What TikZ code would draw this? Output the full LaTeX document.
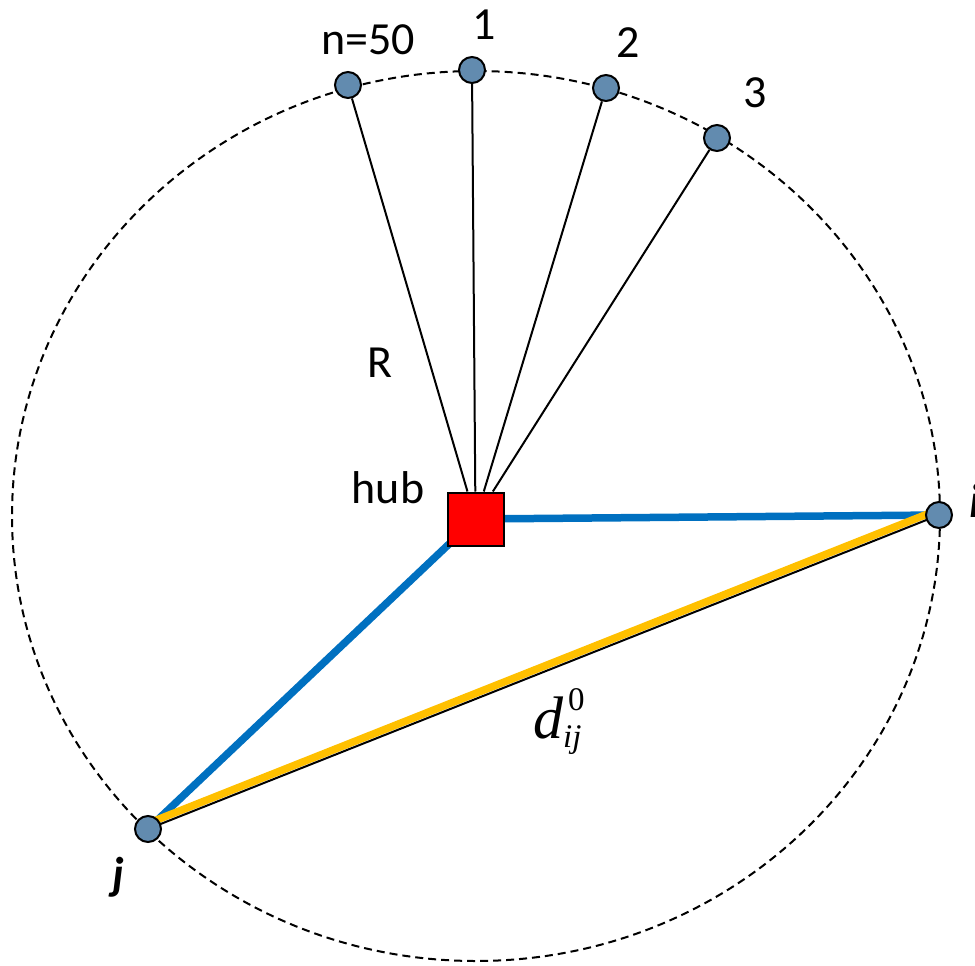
\documentclass[tikz,border=0pt]{standalone}
\usepackage{fontspec}
\setmainfont{Carlito}
\newfontfamily\timesfont{Liberation Serif}
\usetikzlibrary{backgrounds}
\definecolor{nodeblue}{RGB}{98,139,175}
\definecolor{hubred}{RGB}{255,0,0}
\definecolor{linkblue}{RGB}{0,112,192}
\definecolor{linkyellow}{RGB}{255,192,0}

\begin{document}
\begin{tikzpicture}[
      x=1pt, y=-1pt,
      site/.style={circle, draw, line width=2pt, fill=nodeblue,
                   minimum size=26pt, inner sep=0pt},
      hubbox/.style={rectangle, draw, line width=2pt, fill=hubred,
                     minimum width=56pt, minimum height=53pt, inner sep=0pt},
      lab/.style={inner sep=0pt, anchor=base, font=\fontsize{46}{50}\selectfont},
      spoke/.style={line width=2pt},
      link/.style={line width=7.5pt, color=#1}
  ]
    \useasboundingbox (0,0) rectangle (975,966);

    % ring of radius R round the hub
    \draw[line width=2pt, dash pattern=on 8pt off 5pt] (476,516) ellipse [x radius=464, y radius=445];

    \node[hubbox] (hub) at (475.5,519) {};
    \node[site] (n50) at (348,85)  {};
    \node[site] (n1)  at (472,70)  {};
    \node[site] (n2)  at (606,88)  {};
    \node[site] (n3)  at (717,138) {};
    \node[site] (ni)  at (939,515) {};
    \node[site] (nj)  at (148,829) {};

    \node[lab] (n50lab) at (368,55)  {n=50};
    \node[lab] (n1lab)  at (484,40)  {1};
    \node[lab] (n2lab)  at (628,58)  {2};
    \node[lab] (n3lab)  at (755,107) {3};
    \node[lab] (rlab)   at (380,377) {R};
    \node[lab] (hublab) at (388,503) {hub};
    \node[lab, font=\fontsize{46}{50}\selectfont\bfseries\itshape] (jlab) at (118,889) {j};
    \node[lab, anchor=base west, font=\fontsize{48}{50}\selectfont\bfseries\itshape] (ilab) at (969,517) {i};
    \node[inner sep=0pt, anchor=base west] (dlab) at (533,738)
      {\timesfont\itshape\fontsize{60}{60}\selectfont d\fontsize{33}{33}\selectfont\rlap{\raisebox{28pt}{\upshape\hspace{5pt}0}}\raisebox{-9pt}{ij}};

    \begin{scope}[on background layer]
      \draw[spoke] (hub) -- (n50);
      \draw[spoke] (hub) -- (n1);
      \draw[spoke] (hub) -- (n2);
      \draw[spoke] (hub) -- (n3);

      % paths through the hub
      \draw[link=linkblue] (hub.center) -- (ni.center);
      \draw[link=linkblue] (hub.center) -- (nj.center);

      % direct link
      \draw[link=linkyellow] ([xshift=-2pt, yshift=4.8pt]nj.center) -- ([xshift=-2pt, yshift=4.8pt]ni.center);
      \draw[spoke] (nj.center) -- (ni.center);
    \end{scope}
  \end{tikzpicture}
\end{document}
